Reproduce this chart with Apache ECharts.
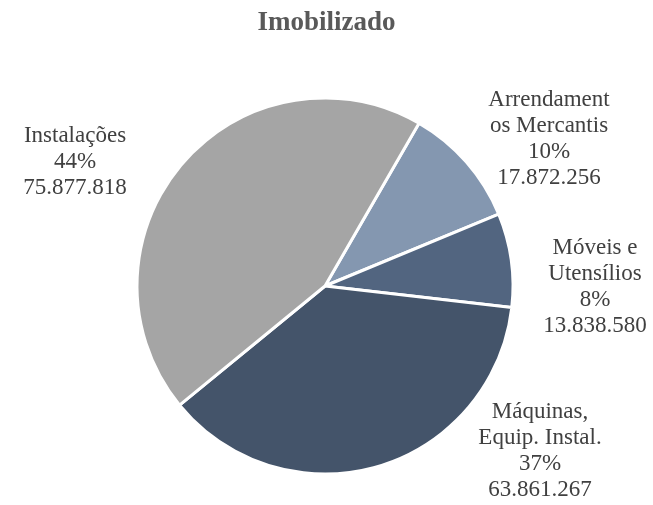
<!DOCTYPE html>
<html>
<head>
<meta charset="utf-8">
<script src="https://cdn.jsdelivr.net/npm/echarts@6/dist/echarts.min.js"></script>
<style>
  html, body { margin: 0; padding: 0; background: #fff; }
  #chart { width: 653px; height: 505px; }
</style>
</head>
<body>
<div id="chart"></div>
<script>
const categories = ['Arrendament\nos Mercantis', 'Móveis e\nUtensílios', 'Máquinas,\nEquip. Instal.', 'Instalações'];
const values = [17872256, 13838580, 63861267, 75877818];
const colors = ['#8497b0', '#526580', '#44546a', '#a5a5a5'];

// label centres (layout only)
const labelPos = [[549, 139], [595, 287], [540, 451], [75, 162]];

const total = values.reduce((a, b) => a + b, 0);

function fmt(n) {
  return String(n).replace(/\B(?=(\d{3})+(?!\d))/g, '.');
}

const chart = echarts.init(document.getElementById('chart'));
chart.setOption({
  animation: false,
  title: {
    text: 'Imobilizado',
    left: 'center',
    top: 5,
    textStyle: { fontFamily: 'Liberation Serif', fontSize: 27, fontWeight: 'bold', color: '#595959' }
  },
  series: [{
    type: 'pie',
    center: [325, 286],
    radius: 188,
    startAngle: 60,
    clockwise: true,
    itemStyle: { borderColor: '#fff', borderWidth: 3 },
    label: {
      show: true,
      position: 'outside',
      fontFamily: 'Liberation Serif',
      fontSize: 23,
      lineHeight: 26,
      color: '#404040',
      align: 'center',
      overflow: 'none',
      formatter: p => p.name + '\n' + Math.round(p.value / total * 100) + '%\n' + fmt(p.value)
    },
    labelLine: { show: false },
    labelLayout: params => ({
      x: labelPos[params.dataIndex][0],
      y: labelPos[params.dataIndex][1],
      align: 'center',
      verticalAlign: 'middle'
    }),
    data: categories.map((c, i) => ({ name: c, value: values[i], itemStyle: { color: colors[i] } }))
  }]
});
</script>
</body>
</html>
